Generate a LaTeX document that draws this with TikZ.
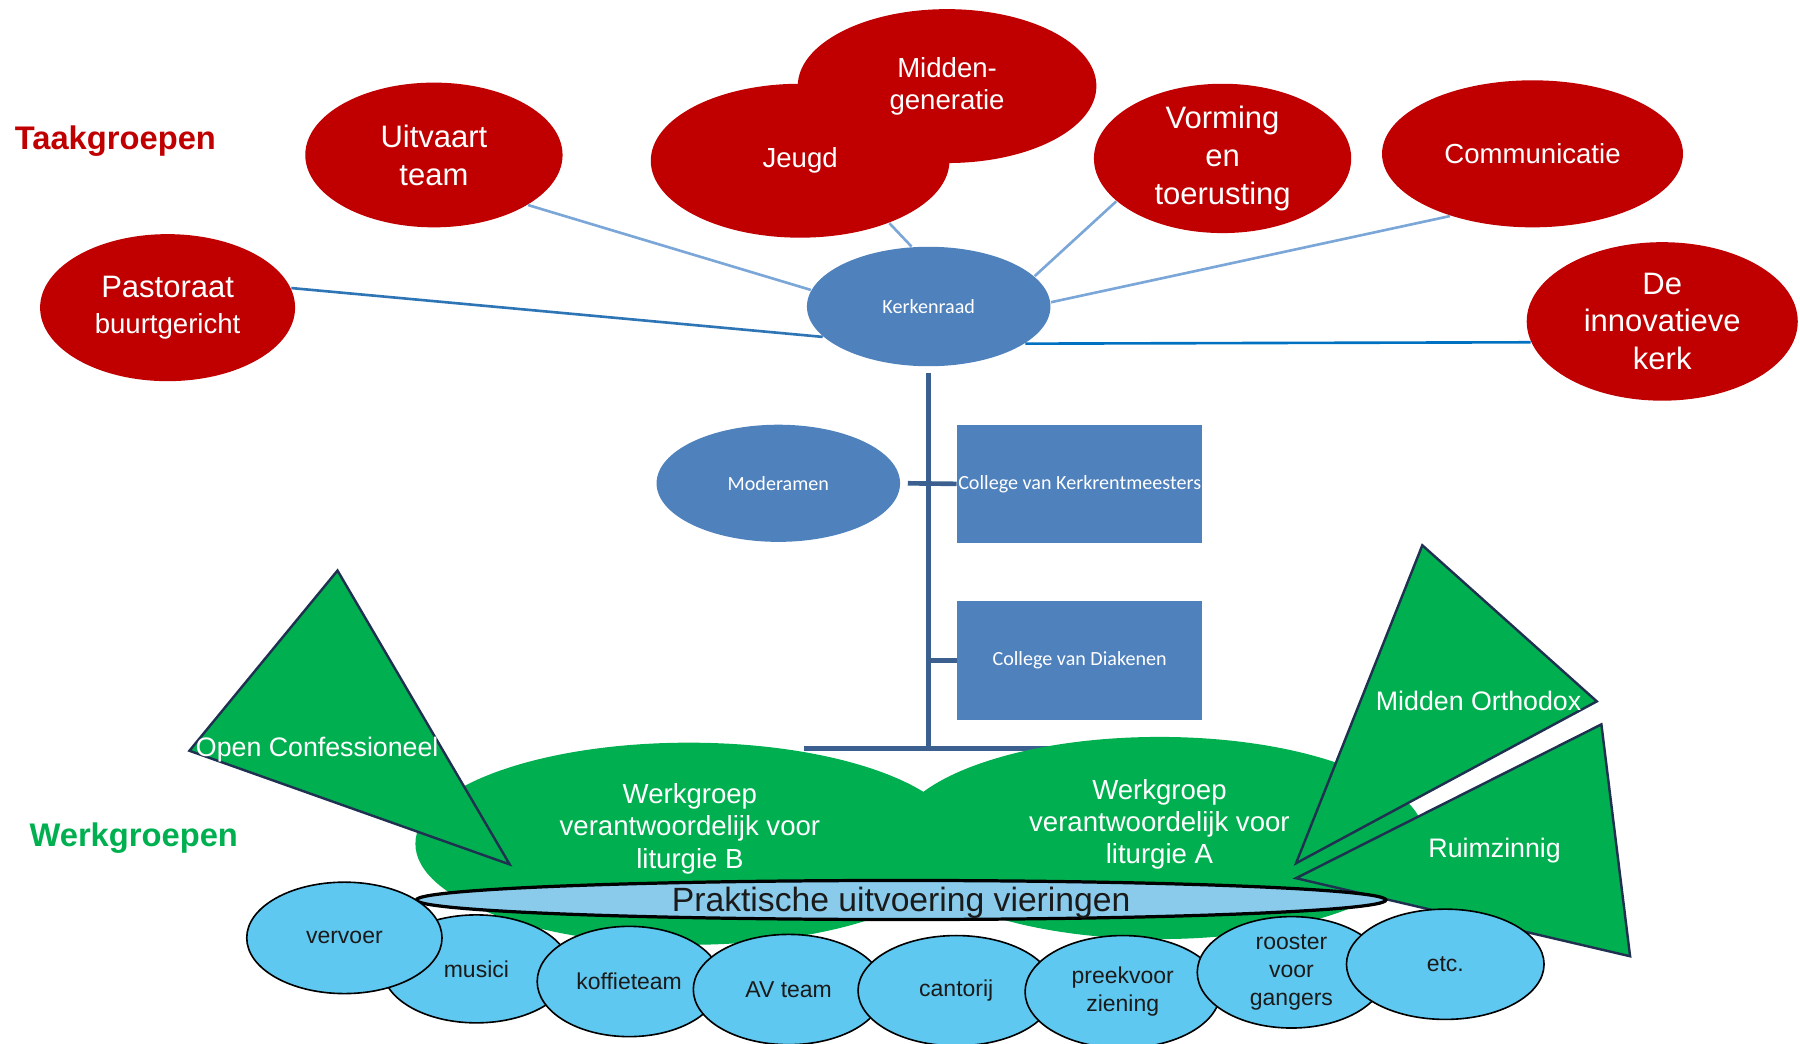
\documentclass[tikz,border=0pt]{standalone}
\usepackage{fontspec}
\setmainfont{Liberation Sans}
\newfontfamily\calfont{Carlito}
\usetikzlibrary{shapes.geometric,calc}
\definecolor{tred}{HTML}{C00000}
\definecolor{tblue}{HTML}{4F81BD}
\definecolor{tgreen}{HTML}{00B050}
\definecolor{trunkcol}{HTML}{3B5F8F}
\definecolor{lnklight}{HTML}{7AA6D8}
\definecolor{lnkdark}{HTML}{2E75B6}
\definecolor{lnkinnov}{HTML}{0070C0}
\definecolor{praktfill}{HTML}{8ACBEB}
\definecolor{smallfill}{HTML}{5FC8F0}
\definecolor{textdark}{HTML}{1A1A1A}
\definecolor{triline}{HTML}{1F3050}
\begin{document}
\begin{tikzpicture}[x=0.01cm,y=-0.01cm,
 redell/.style n args={2}{ellipse, fill=tred, text=white, inner sep=0pt, minimum width=#1, minimum height=#2, align=center},
 blueell/.style n args={2}{ellipse, fill=tblue, text=white, inner sep=0pt, minimum width=#1, minimum height=#2, font=\calfont\fontsize{4.98}{6}\selectfont},
 bluebox/.style={rectangle, fill=tblue, text=white, inner sep=0pt, minimum width=2.13cm, minimum height=1.03cm, font=\calfont\fontsize{4.98}{6}\selectfont},
 greenell/.style n args={2}{ellipse, fill=tgreen, inner sep=0pt, minimum width=#1, minimum height=#2},
 gtext/.style={text=white, align=center, font=\fontsize{6.83}{7.97}\selectfont},
 tri/.style={fill=tgreen, draw=triline, line width=0.6pt, line join=miter},
 tritext/.style={text=white, inner sep=0pt, font=\fontsize{6.63}{8}\selectfont},
 smallell/.style n args={2}{ellipse, fill=smallfill, draw=black, line width=0.4pt, inner sep=0pt, minimum width=#1, minimum height=#2, align=center, text=textdark, font=\fontsize{5.69}{6.97}\selectfont},
 lnk/.style={draw=lnklight, line width=0.65pt},
 trunk/.style={draw=trunkcol, line width=1.15pt},
 bigtxt/.style={font=\fontsize{7.68}{9.39}\selectfont},
 midtxt/.style={font=\fontsize{6.83}{7.97}\selectfont},
 grouplabel/.style={font=\bfseries\fontsize{8.1}{9.5}\selectfont, inner sep=0pt}
]
\useasboundingbox (0,0) rectangle (1568,909);

% group labels
\node[grouplabel, text=tred] (ltaak) at (100.5,123) {Taakgroepen};
\node[grouplabel, text=tgreen] (lwerk) at (116.5,730) {Werkgroepen};

% red task groups
\node[redell={2.22cm}{1.28cm}, font=\fontsize{6.83}{8.8}\selectfont] (past) at (146,268)
  {{\fontsize{7.68}{8.8}\selectfont Pastoraat}\\buurtgericht};
\node[redell={2.24cm}{1.26cm}, bigtxt] (uit) at (378,135) {Uitvaart\\team};
\node[redell={2.60cm}{1.34cm}, midtxt] (jeugd) at (697,140) {Jeugd};
\node[redell={2.60cm}{1.34cm}, midtxt] (midgen) at (825,75) {Midden-\\generatie};
\node[redell={2.24cm}{1.30cm}, bigtxt] (vorm) at (1065,138) {Vorming\\en\\toerusting};
\node[redell={2.62cm}{1.28cm}, midtxt] (comm) at (1335,134) {Communicatie};
\node[redell={2.36cm}{1.38cm}, bigtxt] (innov) at (1448,280) {De\\innovatieve\\kerk};

% governing bodies
\node[blueell={2.12cm}{1.04cm}] (ker) at (809,267) {Kerkenraad};
\node[blueell={2.12cm}{1.02cm}] (mod) at (678,421) {Moderamen};
\node[bluebox] (kcol) at (940.5,421.5) {\makebox[0pt]{College van Kerkrentmeesters}};
\node[bluebox] (diak) at (940.5,575.5) {College van Diakenen};

% connectors to task groups
\draw[draw=lnkdark, line width=0.65pt] (past.9) -- (ker.196);
\draw[lnk] (uit.-28) -- (ker.172);
\draw[lnk] (jeugd.-35) -- (ker.106);
\draw[lnk] (vorm.202) -- (ker.16);
\draw[lnk] (comm.217) -- (ker.2);
\draw[draw=lnkinnov, line width=0.65pt] (ker.-21) -- (innov.189.5);

% trunk
\coordinate (hl) at (700,652);
\coordinate (hr) at (960,652);
\draw[trunk] ($(ker.south)+(0,5)$) -- (ker.south |- hl);
\draw[trunk] (hl) -- (hr);
\draw[trunk] ($(mod.east)+(6,0)$) -- (kcol.west);
\draw[trunk] (diak.west -| ker.south) -- (diak.west);

% green working groups
\node[greenell={4.76cm}{1.76cm}] (wgb) at (600,735) {};
\node[greenell={4.62cm}{1.76cm}] (wga) at (1010,730) {};
\node[gtext] (tb) at (601,722) {Werkgroep\\verantwoordelijk voor\\liturgie B};
\node[gtext] (ta) at (1010,718) {Werkgroep\\verantwoordelijk voor\\liturgie A};

% triangles
\path[tri] (294,497) -- (165,654) -- (444,753) -- cycle;
\path[tri] (1239,475) -- (1391,611) -- (1129,752) -- cycle;
\path[tri] (1395,631) -- (1420,833) -- (1129,765) -- cycle;
\node[tritext, anchor=west] (toc) at (170,653) {Open Confessioneel};
\node[tritext] (tmo) at (1288,611) {Midden Orthodox};
\node[tritext] (trz) at (1302,741) {Ruimzinnig};

% practical execution
\node[ellipse, fill=praktfill, draw=black, line width=0.8pt, inner sep=0pt,
      minimum width=8.44cm, minimum height=0.34cm] (prak) at (785,784) {};
\node[text=textdark, inner sep=0pt, font=\fontsize{8.34}{9.5}\selectfont] (prakt) at (785,786) {Praktische uitvoering vieringen};

% small teams
\node[smallell={1.63cm}{0.94cm}] (musici) at (415,844) {musici};
\node[smallell={1.70cm}{0.97cm}] (vervoer) at (300,817) {vervoer};
\node[smallell={1.60cm}{0.96cm}] (koffie) at (548,855) {koffieteam};
\node[smallell={1.66cm}{0.96cm}] (av) at (687,862) {AV team};
\node[smallell={1.71cm}{0.96cm}] (cantorij) at (833,863) {cantorij};
\node[smallell={1.70cm}{0.98cm}] (preek) at (978,864) {preekvoor\\ziening};
\node[smallell={1.64cm}{0.97cm}] (rooster) at (1125,847) {rooster\\voor\\gangers};
\node[smallell={1.72cm}{0.96cm}] (etc) at (1259,840) {etc.};
\end{tikzpicture}
\end{document}
